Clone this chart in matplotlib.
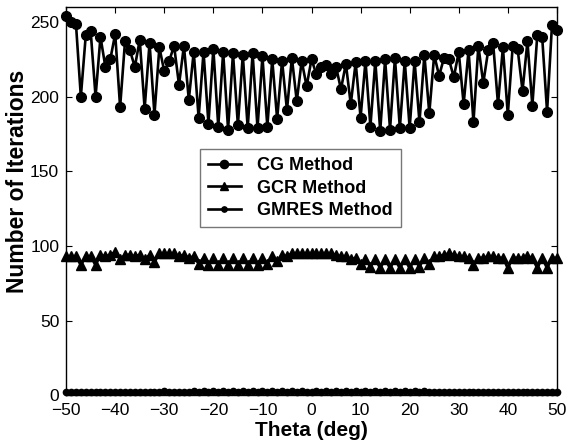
import numpy as np
import matplotlib
matplotlib.use("Agg")
import matplotlib.pyplot as plt

plt.rcParams['font.family'] = ['Liberation Sans', 'DejaVu Sans']

# incidence angle, 1 degree steps
theta = np.arange(-50, 51)

# iteration counts per solver
cg_iters = [254, 250, 249, 200, 241, 244, 200, 240, 220, 225,
            242, 193, 237, 231, 220, 238, 192, 236, 188, 233,
            217, 224, 234, 208, 234, 198, 230, 186, 230, 182,
            232, 180, 230, 178, 229, 181, 228, 179, 229, 179,
            227, 180, 225, 185, 224, 191, 226, 197, 224, 207,
            225,
            215, 220, 221, 215, 220, 205, 222, 195, 223, 186,
            224, 180, 224, 177, 225, 178, 226, 179, 224, 179,
            224, 183, 228, 189, 228, 214, 226, 225, 213, 230,
            195, 231, 183, 234, 209, 231, 236, 195, 233, 188,
            234, 232, 204, 237, 194, 241, 240, 190, 248, 245]

gcr_iters = [93, 93, 93, 87, 93, 93, 87, 94, 93, 94,
             96, 91, 94, 94, 93, 94, 91, 94, 89, 95,
             95, 95, 95, 93, 94, 92, 93, 88, 92, 87,
             92, 87, 92, 87, 92, 87, 92, 87, 92, 87,
             92, 88, 93, 90, 94, 93, 95, 95, 95, 95,
             95,
             95, 95, 95, 95, 94, 93, 93, 91, 92, 88,
             91, 86, 91, 85, 91, 85, 91, 85, 91, 85,
             91, 86, 92, 88, 93, 93, 94, 95, 94, 93,
             93, 92, 87, 92, 92, 93, 93, 92, 92, 85,
             92, 92, 92, 93, 92, 85, 92, 85, 92, 92]

gmres_iters = [2] * 101
for a in [-30] + list(range(-24, 0, 2)) + list(range(1, 24, 2)):
    gmres_iters[a + 50] = 3

fig = plt.figure(figsize=(5.7, 4.46), dpi=100)
ax = fig.add_axes([0.116, 0.114, 0.861, 0.870])

line_kw = dict(color='black', linewidth=1.9, clip_on=False)
ax.plot(theta, cg_iters, marker='o', markersize=7, label='CG Method', **line_kw)
ax.plot(theta, gcr_iters, marker='^', markersize=7.5, label='GCR Method', **line_kw)
ax.plot(theta, gmres_iters, marker='o', markersize=4.5, label='GMRES Method', **line_kw)

ax.set_xlim(-50, 50)
ax.set_ylim(0, 260)
ax.set_xticks(np.arange(-50, 51, 10))
ax.set_yticks(np.arange(0, 251, 50))
ax.tick_params(direction='in', top=True, right=True, labelsize=12.5, length=4)
ax.tick_params(axis='x', pad=6)
ax.tick_params(axis='y', pad=5)
for sp in ax.spines.values():
    sp.set_linewidth(1.0)

ax.set_xlabel('Theta (deg)', fontsize=15, fontweight='bold', labelpad=2)
ax.set_ylabel('Number of Iterations', fontsize=16.5, fontweight='bold')
ax.yaxis.set_label_coords(-0.076, 0.55)

leg = ax.legend(loc='upper left', bbox_to_anchor=(0.273, 0.634), borderaxespad=0,
                prop={'weight': 'bold', 'size': 13}, frameon=True, fancybox=False,
                edgecolor='#555555', handlelength=1.8, borderpad=0.45,
                labelspacing=0.3, handletextpad=0.9, markerscale=0.85)
leg.get_frame().set_linewidth(1.0)

fig.savefig('out.png', dpi=100)
